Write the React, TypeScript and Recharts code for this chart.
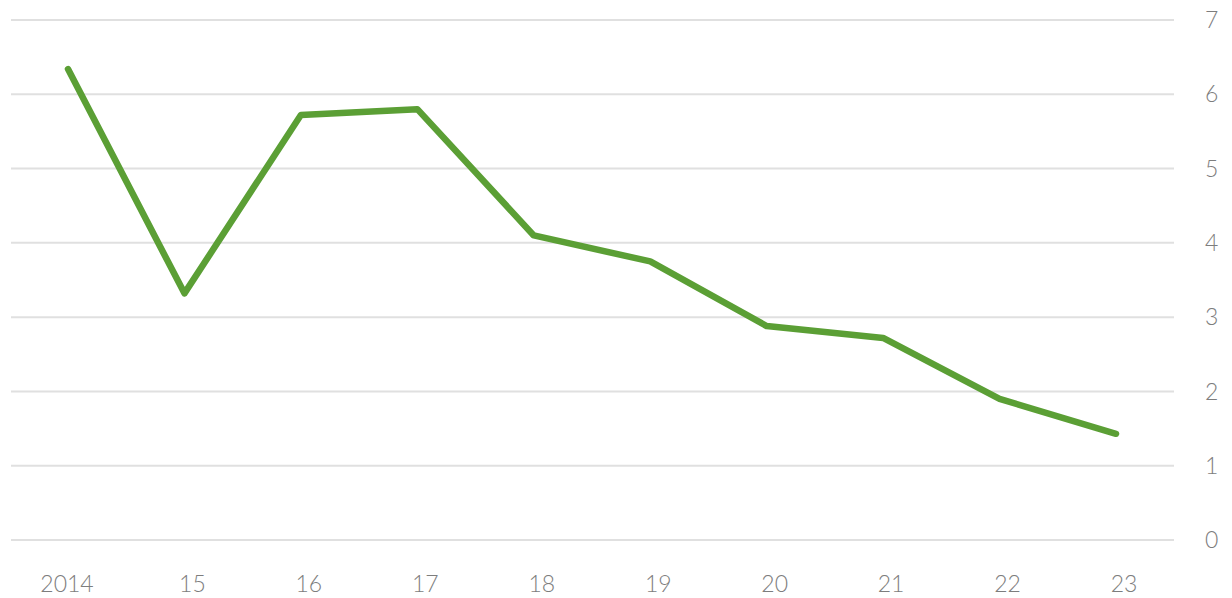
import React from 'react';
import { LineChart, Line, XAxis, YAxis, CartesianGrid } from 'recharts';

const years = ['2014', '15', '16', '17', '18', '19', '20', '21', '22', '23'];
const values = [6.34, 3.32, 5.72, 5.8, 4.1, 3.75, 2.88, 2.72, 1.9, 1.43];
const yTicks = [0, 1, 2, 3, 4, 5, 6, 7];

const data = years.map((year, i) => ({ year, value: values[i] }));

const tickStyle = { fill: '#7d7d7d', fontSize: 23, fontFamily: 'Lato, sans-serif', fontWeight: 300 };

// labels sit a bit right of the points, except the first (full year)
function YearTick(props: any) {
  const { x, y, payload, index } = props;
  const shift = index === 0 ? -1 : 8;
  return (
    <text x={x + shift} y={y} dy="0.71em" textAnchor="middle" {...tickStyle}>
      {payload.value}
    </text>
  );
}

export default function App() {
  return (
    <div style={{ position: 'absolute', top: 0, left: 0, width: 1232, height: 598, background: '#fff' }}>
      <LineChart width={1232} height={598} data={data} margin={{ top: 20, right: 0, left: 11, bottom: 0 }}>
        <CartesianGrid vertical={false} stroke="#e0e0e0" strokeWidth={2} />
        <XAxis
          dataKey="year"
          axisLine={false}
          tickLine={false}
          tickSize={0}
          tickMargin={36}
          height={58}
          padding={{ left: 57, right: 58 }}
          tick={<YearTick />}
          interval={0}
        />
        <YAxis
          orientation="right"
          domain={[0, 7]}
          ticks={yTicks}
          axisLine={false}
          tickLine={false}
          tickSize={0}
          tickMargin={31}
          width={58}
          tick={tickStyle}
          interval={0}
        />
        <Line
          type="linear"
          dataKey="value"
          stroke="#5b9f35"
          strokeWidth={6.5}
          strokeLinecap="round"
          strokeLinejoin="round"
          dot={false}
          activeDot={false}
          isAnimationActive={false}
        />
      </LineChart>
    </div>
  );
}
